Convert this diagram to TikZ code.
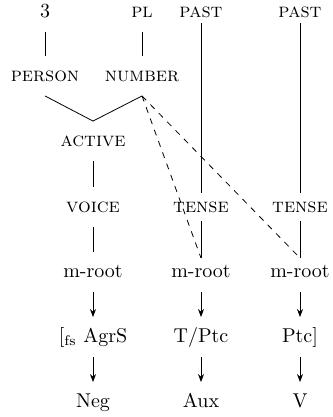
\documentclass[tikz,border=0pt]{standalone}
\usetikzlibrary{arrows.meta}

\begin{document}
\begin{tikzpicture}[x=0.5pt, y=-0.5pt,
    feat/.style={inner sep=6pt, text height=1.5ex, text depth=.25ex},
    link/.style={thin},
    copy/.style={thin, dashed},
    realize/.style={thin, -{Stealth[length=4pt, width=3pt]}}]
    \useasboundingbox (0,0) rectangle (332,417);

    % top row
    \node[feat] (three) at (45,12) {3};
    \node[feat] (pl) at (142,12) {\textsc{pl}};
    \node[feat] (pastA) at (201,12) {\textsc{past}};
    \node[feat] (pastB) at (300,12) {\textsc{past}};

    \node[feat] (person) at (45,76) {\textsc{person}};
    \node[feat] (number) at (142,76) {\textsc{number}};
    \node[feat] (active) at (93,141) {\textsc{active}};

    \node[feat] (voice) at (93,207) {\textsc{voice}};
    \node[feat] (tenseA) at (201,207) {\textsc{tense}};
    \node[feat] (tenseB) at (300,207) {\textsc{tense}};

    % m-roots and exponents
    \node[feat] (rootA) at (93,272) {m-root};
    \node[feat] (rootB) at (201,272) {m-root};
    \node[feat] (rootC) at (300,272) {m-root};

    \node[feat] (agrs) at (93,337) {[\textsubscript{fs} AgrS};
    \node[feat] (tptc) at (201,337) {T/Ptc};
    \node[feat] (ptc) at (300,337) {Ptc]};

    \node[feat] (neg) at (93,402) {Neg};
    \node[feat] (aux) at (201,402) {Aux};
    \node[feat] (verb) at (300,402) {V};

    \coordinate (endB) at (201,258);
    \coordinate (endC) at (300,258);

    \draw[link] (three) -- (person);
    \draw[link] (pl) -- (number);
    \draw[link] (person.south) -- (active.north) -- (number.south);
    \draw[link] (active) -- (voice);
    \draw[link] (voice) -- (rootA);

    \draw[link, shorten <=-4.5pt, shorten >=-3pt] (pastA) -- (tenseA);
    \draw[link, shorten <=-4.5pt, shorten >=-3pt] (pastB) -- (tenseB);
    \draw[link, shorten <=-3pt] (tenseA.south) -- (endB);
    \draw[link, shorten <=-3pt] (tenseB.south) -- (endC);

    \draw[copy] (number.south) -- (endB);
    \draw[copy] (number.south) -- (endC);

    \draw[realize] (rootA) -- (agrs);
    \draw[realize] (agrs) -- (neg);
    \draw[realize] (rootB) -- (tptc);
    \draw[realize] (tptc) -- (aux);
    \draw[realize] (rootC) -- (ptc);
    \draw[realize] (ptc) -- (verb);
\end{tikzpicture}
\end{document}
